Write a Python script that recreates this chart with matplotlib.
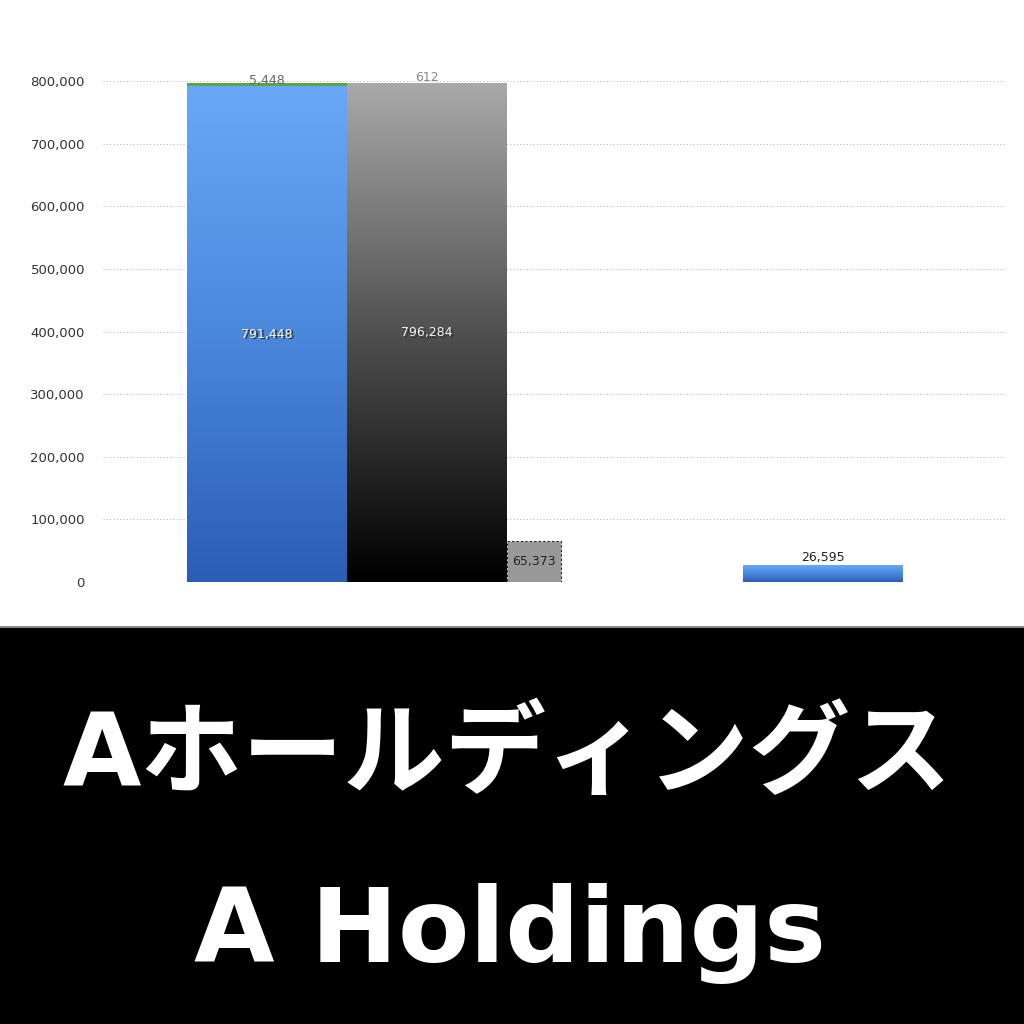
import numpy as np
import matplotlib
matplotlib.use('Agg')
import matplotlib.pyplot as plt
from matplotlib.patches import Rectangle
from matplotlib.colors import LinearSegmentedColormap

# data
assets = [791448]          # blue stack, group 1
assets_top = [5448]        # green cap on blue stack
liab = [796284]            # gray stack, group 1
liab_top = [612]
side_val = [65373]         # dashed small bar
right_val = [26595]        # blue bar, group 2
yticks = [0, 100000, 200000, 300000, 400000, 500000, 600000, 700000, 800000]
title_jp = 'Aホールディングス'
title_en = 'A Holdings'

fig = plt.figure(figsize=(10.24, 10.24), dpi=100)
fig.patch.set_facecolor('white')

ax = fig.add_axes([103/1024, 1-582/1024, 902/1024, 501/1024])
for s in ax.spines.values():
  s.set_visible(False)
ax.set_xticks([])
ax.set_yticks(yticks)
ax.set_yticklabels(['{:,}'.format(v) for v in yticks], fontsize=9.5, color='#333333')
ax.tick_params(axis='y', length=0, pad=13)
ax.grid(axis='y', linestyle=(0, (1, 2)), color='#bbbbbb', lw=0.8)
ax.set_axisbelow(True)

blue_cm = LinearSegmentedColormap.from_list('b', ['#2b5db5', '#4a88dc', '#69a8f6'])
gray_cm = LinearSegmentedColormap.from_list('g', ['#000000', '#505050', '#a9a9a9'])
grad = np.linspace(0, 1, 256).reshape(-1, 1)

def grad_bar(x0, w, h, cm, b=0):
  r = Rectangle((x0, b), w, h, facecolor='none', edgecolor='none')
  ax.add_patch(r)
  im = ax.imshow(grad, extent=(x0, x0+w, b, b+h), origin='lower', cmap=cm,
                 aspect='auto', zorder=2)
  im.set_clip_path(r)

g0 = 1.525
g1 = 4.5
w = 1.0

# group 1
grad_bar(g0-w, w, assets[0], blue_cm)
ax.bar(g0-w/2, assets_top[0], w, bottom=assets[0], color='#5aa44a', zorder=3)
grad_bar(g0, w, liab[0], gray_cm)
ax.bar(g0+w/2, liab_top[0], w, bottom=liab[0], color='#a9a9a9', zorder=3)
ax.bar(g0+w, side_val[0], 0.3375, align='edge', color='#999999',
       edgecolor='#222222', linestyle=(0, (2, 2)), lw=0.8, zorder=3)
# group 2
grad_bar(g1-w/2, w, right_val[0], blue_cm)

ax.set_xlim(0, 5.6375)
ax.set_ylim(0, 800000)

# labels
for xc, v in [(g0-w/2, assets[0]), (g0+w/2, liab[0])]:
  ax.text(xc+0.008, v/2-2500, '{:,}'.format(v), ha='center', va='center',
          fontsize=9, color='#333333', zorder=4)
  ax.text(xc, v/2, '{:,}'.format(v), ha='center', va='center',
          fontsize=9, color='#f2f2f2', zorder=5)
ax.text(g0-w/2, assets[0]+assets_top[0]+4000, '{:,}'.format(assets_top[0]),
        ha='center', va='center', fontsize=9, color='#666666', zorder=5, clip_on=False)
ax.text(g0+w/2, liab[0]+liab_top[0]+8000, '{:,}'.format(liab_top[0]),
        ha='center', va='center', fontsize=9, color='#888888', zorder=5, clip_on=False)
ax.text(g0+w+0.3375/2, side_val[0]/2, '{:,}'.format(side_val[0]),
        ha='center', va='center', fontsize=9, color='#222222', zorder=5)
ax.text(g1, right_val[0]+2500, '{:,}'.format(right_val[0]),
        ha='center', va='bottom', fontsize=9, color='#222222', zorder=5)

# bottom black panel
fig.patches.append(Rectangle((0, 0), 1, 1-627/1024, transform=fig.transFigure,
                             facecolor='black', edgecolor='none', zorder=0))
fig.patches.append(Rectangle((0, 1-628/1024), 1, 2.5/1024, transform=fig.transFigure,
                             facecolor='#8a8a8a', edgecolor='none', zorder=0))

fig.text(507/1024, 1-758/1024, title_jp, ha='center', va='center', color='white',
         fontsize=73, fontweight='bold', family=['DejaVu Sans', 'Noto Sans CJK JP'])
fig.text(510/1024, 1-933/1024, title_en, ha='center', va='center', color='white',
         fontsize=75, fontweight='bold', family=['DejaVu Sans'])

fig.savefig('out.png', dpi=100)
